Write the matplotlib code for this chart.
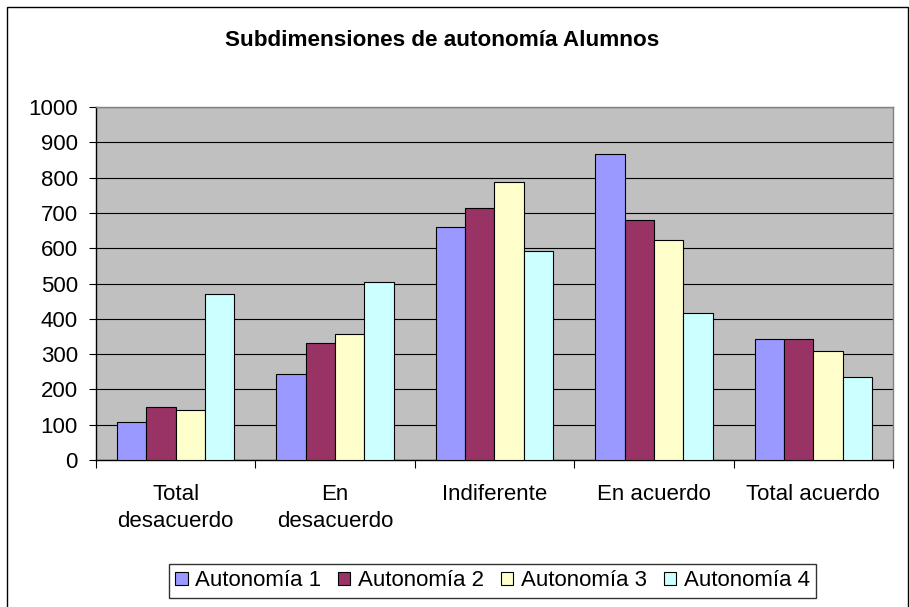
import matplotlib
matplotlib.use("Agg")
from matplotlib import pyplot as plt
from matplotlib.patches import Rectangle
import numpy as np

plt.rcParams['font.family'] = ['Liberation Sans', 'DejaVu Sans']

categories = ["Total\ndesacuerdo", "En\ndesacuerdo", "Indiferente", "En acuerdo", "Total acuerdo"]
series_names = ["Autonomía 1", "Autonomía 2", "Autonomía 3", "Autonomía 4"]
autonomia_1 = [107, 244, 661, 867, 342]
autonomia_2 = [151, 332, 714, 680, 342]
autonomia_3 = [141, 356, 788, 622, 308]
autonomia_4 = [470, 504, 592, 416, 234]
colors = ["#9999FF", "#993366", "#FFFFCC", "#CCFFFF"]

W, H = 909, 607
fig = plt.figure(figsize=(W / 100, H / 100), dpi=100)
ax = fig.add_axes([96 / W, 1 - 460 / H, 797 / W, 353 / H])
ax.set_facecolor("#C0C0C0")

x = np.arange(len(categories))
width = 0.184
all_series = [autonomia_1, autonomia_2, autonomia_3, autonomia_4]
for j, vals in enumerate(all_series):
    ax.bar(x + (j - 1.5) * width, vals, width, color=colors[j], edgecolor="black",
           linewidth=0.8, label=series_names[j], zorder=3)

ax.set_xlim(-0.5, len(categories) - 0.5)
ax.set_ylim(0, 1000)
ax.set_yticks(range(0, 1001, 100))
ax.yaxis.grid(True, color="black", linewidth=0.8, zorder=0)
ax.set_axisbelow(True)
ax.tick_params(axis="y", labelsize=16, length=5, pad=8, width=0.8)

ax.set_xticks(np.arange(-0.5, len(categories)), minor=False)
ax.set_xticklabels([])
ax.set_xticks(x, minor=True)
ax.set_xticklabels(categories, minor=True, fontsize=16, linespacing=1.4)
ax.tick_params(axis="x", which="major", length=6, width=0.8)
ax.tick_params(axis="x", which="minor", length=0, pad=17)

for s in ["top", "right"]:
    ax.spines[s].set_color("#808080")
    ax.spines[s].set_linewidth(1.0)
for s in ["left", "bottom"]:
    ax.spines[s].set_color("black")
    ax.spines[s].set_linewidth(1.0)

fig.text(442 / W, 1 - 40 / H, "Subdimensiones de autonomía Alumnos", ha="center", va="center",
         fontsize=16.2, fontweight="bold")

leg = fig.legend(loc="center", bbox_to_anchor=(492.5 / W, 1 - 581 / H), ncol=4, fontsize=16,
                 frameon=True, fancybox=False, edgecolor="black", handlelength=0.55,
                 handleheight=0.55, handletextpad=0.35, columnspacing=0.75, borderpad=0.3)
leg.get_frame().set_linewidth(1.0)

border = Rectangle((7 / W, -0.02), 901 / W, 1.02 - 7 / H, transform=fig.transFigure,
                   fill=False, edgecolor="black", linewidth=1.0)
fig.patches.append(border)

fig.savefig("out.png", dpi=100)
